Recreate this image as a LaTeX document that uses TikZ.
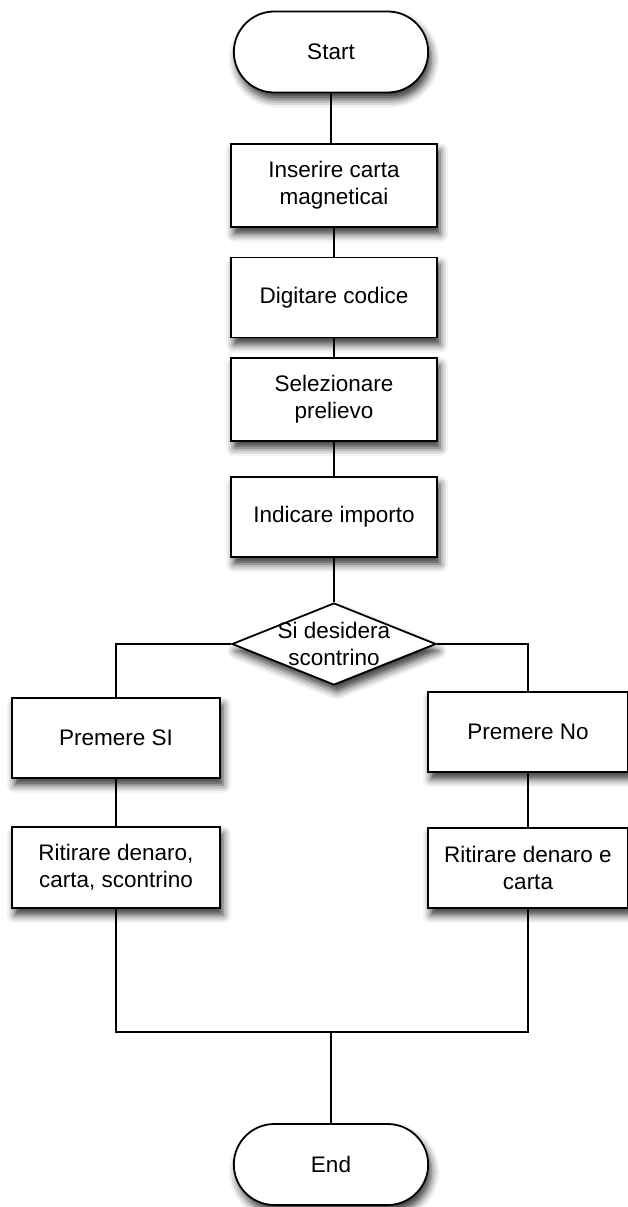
\documentclass[tikz,border=0pt]{standalone}
\usepackage{fontspec}
\setmainfont{Liberation Sans}
\usetikzlibrary{shapes.geometric, shapes.misc, shadows.blur, positioning}

\begin{document}
\begin{tikzpicture}[x=1pt, y=-1pt,
    every node/.style={font=\fontsize{22.5}{27}\selectfont, align=center},
    conn/.style={line width=1.8pt},
    fshadow/.style={blur shadow={shadow xshift=3pt, shadow yshift=-7pt, shadow blur radius=8pt, shadow opacity=80}},
    terminal/.style={draw, line width=1.8pt, fill=white, rounded rectangle, minimum width=201pt, minimum height=81pt, fshadow},
    stepbox/.style={draw, line width=1.8pt, fill=white, rectangle, minimum width=206pt, minimum height=81pt, inner sep=2pt, fshadow},
    decision/.style={draw, line width=1.8pt, fill=white, diamond, inner sep=0pt, minimum width=204pt, minimum height=82pt, fshadow}]
  \useasboundingbox (0,0) rectangle (628,1207);

  \node[terminal] (start) at (331,52) {Start};
  \node[stepbox, minimum height=83pt] (carta) at (334,185.5) {Inserire carta\\magneticai};
  \node[stepbox, minimum height=80pt] (codice) at (334,297.5) {Digitare codice};
  \node[stepbox, minimum height=83pt] (prelievo) at (334,399.5) {Selezionare\\prelievo};
  \node[stepbox, minimum height=80pt] (importo) at (334,517) {Indicare importo};
  \node[decision, label={[align=center]center:Si desidera\\scontrino}] (scontr) at (334,644) {};

  \node[stepbox, minimum width=208pt, minimum height=80pt] (premSI) at (116,738) {Premere SI};
  \node[stepbox, minimum width=208pt, minimum height=81pt] (ritSI) at (116,867.5) {Ritirare denaro,\\carta, scontrino};
  \node[stepbox, minimum width=200pt, minimum height=80pt] (premNo) at (528,732) {Premere No};
  \node[stepbox, minimum width=200pt, minimum height=80pt] (ritNo) at (528,868) {Ritirare denaro e\\carta};

  \coordinate (join) at (331,1032);
  \node[terminal] (end) at (331,1164.5) {End};

  \draw[conn] (start) -- (start |- carta.north);
  \draw[conn] (carta) -- (codice);
  \draw[conn] (codice) -- (prelievo);
  \draw[conn] (prelievo) -- (importo);
  \draw[conn] (importo) -- (scontr);
  \draw[conn] (scontr.west) -| (premSI.north);
  \draw[conn] (scontr.east) -| (premNo.north);
  \draw[conn] (premSI) -- (ritSI);
  \draw[conn] (premNo) -- (ritNo);
  \draw[conn] (ritSI.south) -- (ritSI |- join) -- (ritNo |- join) -- (ritNo.south);
  \draw[conn] (join) -- (end);
\end{tikzpicture}
\end{document}
